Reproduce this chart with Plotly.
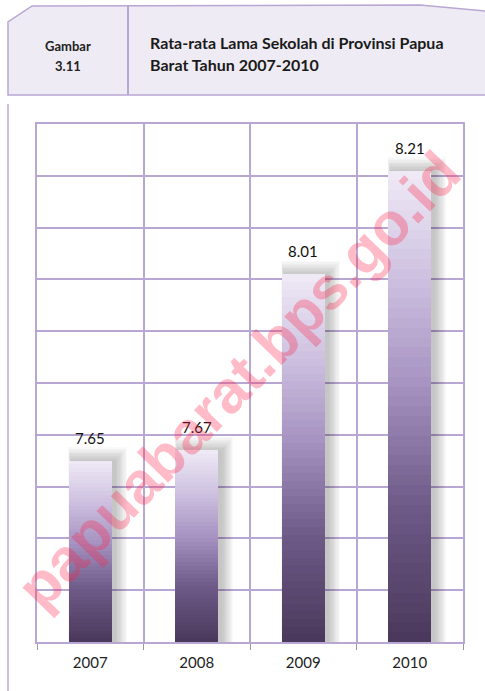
import plotly.graph_objects as go

years = ["2007", "2008", "2009", "2010"]
values = [7.65, 7.67, 8.01, 8.21]
labels = ["7.65", "7.67", "8.01", "8.21"]

W, H = 485, 691
L, R, T, B = 37, 22, 124, 49
PW, PH = W - L - R, H - T - B
YMIN, YMAX = 7.3, 8.3

def px(x):
    return (x - L) / PW

def py(y):
    return (H - B - y) / PH

stops = [(0.0, (72, 55, 90)), (0.3, (110, 90, 135)), (0.55, (165, 145, 192)),
         (0.78, (205, 192, 224)), (1.0, (238, 233, 245))]

def grad(f):
    for (a, ca), (b, cb) in zip(stops[:-1], stops[1:]):
        if a <= f <= b:
            t = (f - a) / (b - a)
            c = [round(ca[k] + (cb[k] - ca[k]) * t) for k in range(3)]
            return f"rgb({c[0]},{c[1]},{c[2]})"
    return "rgb(238,233,245)"

fig = go.Figure()

# soft shadow layers
nsh = 10
for k in range(nsh):
    grow = 0.15 - 0.014 * k
    fig.add_trace(go.Bar(
        x=years, y=[v - YMIN + 0.026 - 0.0028 * k for v in values], base=YMIN,
        width=0.40 + grow, offset=-0.20 + 0.02 - 0.0025 * (nsh - k),
        marker=dict(color="rgba(0,0,0,0.022)", line=dict(width=0)),
        hoverinfo="skip", showlegend=False))

N = 48
for i in range(N):
    f = 1 - i / N
    fig.add_trace(go.Bar(
        x=years, y=[(v - YMIN) * f for v in values], base=YMIN,
        width=0.40, offset=-0.20,
        marker=dict(color=grad(f), line=dict(width=0)),
        hoverinfo="skip", showlegend=False))

annotations = []
for i, (v, lab) in enumerate(zip(values, labels)):
    annotations.append(dict(x=i, y=v, xref="x", yref="y", text=lab,
                            showarrow=False, yshift=23,
                            font=dict(family="Lato", size=15, color="#111111")))

# watermark
annotations.append(dict(xref="paper", yref="paper", x=px(238), y=py(380),
                        text="papuabarat.bps.go.id", showarrow=False,
                        textangle=-46, xanchor="center", yanchor="middle",
                        font=dict(family="Liberation Sans", size=60, weight="bold",
                                  color="rgba(255,30,70,0.30)")))

# header text
annotations += [
    dict(xref="paper", yref="paper", x=px(68), y=py(46), text="<b>Gambar</b>",
         showarrow=False, xanchor="center", yanchor="middle",
         font=dict(family="Lato", size=13, color="#222222")),
    dict(xref="paper", yref="paper", x=px(68), y=py(66), text="<b>3.11</b>",
         showarrow=False, xanchor="center", yanchor="middle",
         font=dict(family="Lato", size=13, color="#222222")),
    dict(xref="paper", yref="paper", x=px(148), y=py(42),
         text="<b>Rata-rata Lama Sekolah di Provinsi Papua</b>",
         showarrow=False, xanchor="left", yanchor="middle",
         font=dict(family="Lato", size=16, color="#1a1a1a")),
    dict(xref="paper", yref="paper", x=px(148), y=py(64),
         text="<b>Barat Tahun 2007-2010</b>",
         showarrow=False, xanchor="left", yanchor="middle",
         font=dict(family="Lato", size=16, color="#1a1a1a")),
]

lc = "#b9a7d3"
path = (f"M {px(8)},{py(95)} L {px(8)},{py(22)} L {px(32)},{py(6)} "
        f"L {px(420)},{py(5)} L {px(486)},{py(11)} L {px(486)},{py(95)} Z")
shapes = [
    dict(type="path", xref="paper", yref="paper", path=path,
         fillcolor="#efebf4", line=dict(color=lc, width=1.5), layer="below"),
    dict(type="line", xref="paper", yref="paper", x0=px(128), x1=px(128),
         y0=py(6), y1=py(95), line=dict(color=lc, width=2)),
    dict(type="line", xref="paper", yref="paper", x0=px(8), x1=px(8),
         y0=py(104), y1=py(700), line=dict(color=lc, width=1.5)),
]

fig.update_layout(
    width=W, height=H, margin=dict(l=L, r=R, t=T, b=B),
    paper_bgcolor="white", plot_bgcolor="white",
    barmode="overlay", bargap=0,
    annotations=annotations, shapes=shapes, showlegend=False,
    xaxis=dict(type="category", tickson="boundaries", showgrid=True,
               gridcolor=lc, gridwidth=1.5, ticks="outside", ticklen=6,
               tickcolor="#999999", showline=True, linecolor=lc, linewidth=1.5,
               mirror=True, tickfont=dict(family="Lato", size=15, color="#222222"),
               ticklabelstandoff=6, range=[-0.5, 3.5]),
    yaxis=dict(range=[YMIN, YMAX], dtick=0.1, tick0=YMIN, showgrid=True,
               gridcolor=lc, gridwidth=1.5, showticklabels=False, ticks="",
               showline=True, linecolor=lc, linewidth=1.5, mirror=True,
               zeroline=False),
)

fig.write_html("out.html")
